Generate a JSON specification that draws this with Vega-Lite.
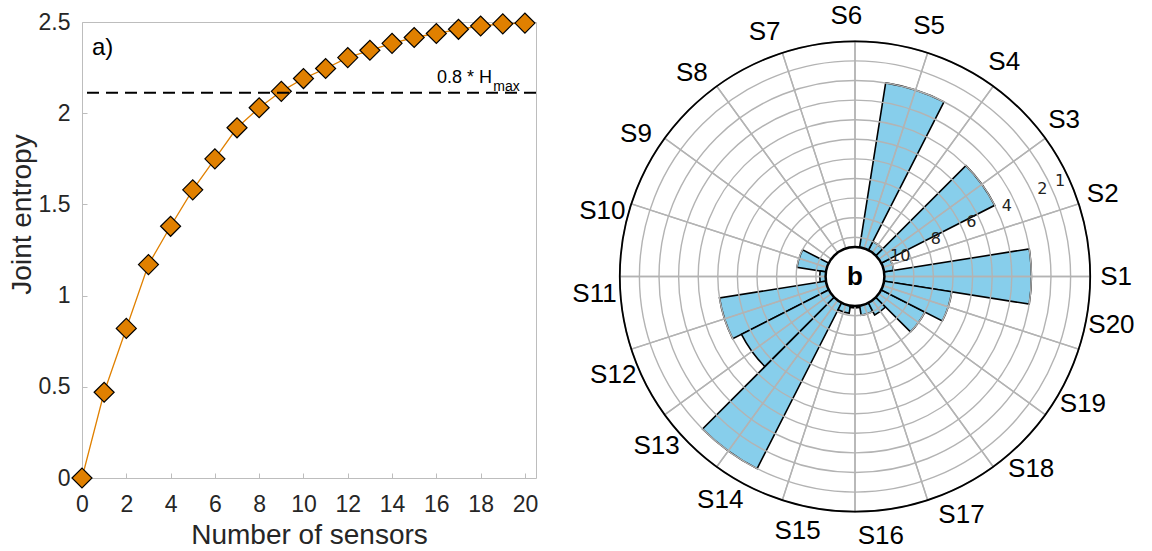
{
  "$schema": "https://vega.github.io/schema/vega-lite/v6.json",
  "background": "white",
  "padding": {"left": 7, "top": 2, "right": 0, "bottom": 0},
  "bounds": "flush",
  "spacing": 84,
  "config": {"font": "Liberation Sans"},
  "datasets": {
    "curve": [
      {"sensors": 0, "H": 0},
      {"sensors": 1, "H": 0.47},
      {"sensors": 2, "H": 0.82},
      {"sensors": 3, "H": 1.17},
      {"sensors": 4, "H": 1.38},
      {"sensors": 5, "H": 1.58},
      {"sensors": 6, "H": 1.75},
      {"sensors": 7, "H": 1.92},
      {"sensors": 8, "H": 2.03},
      {"sensors": 9, "H": 2.12},
      {"sensors": 10, "H": 2.19},
      {"sensors": 11, "H": 2.245},
      {"sensors": 12, "H": 2.305},
      {"sensors": 13, "H": 2.345},
      {"sensors": 14, "H": 2.383},
      {"sensors": 15, "H": 2.415},
      {"sensors": 16, "H": 2.437},
      {"sensors": 17, "H": 2.46},
      {"sensors": 18, "H": 2.478},
      {"sensors": 19, "H": 2.49},
      {"sensors": 20, "H": 2.494}
    ],
    "rank": [
      {"sensor": "S1", "v": 4},
      {"sensor": "S2", "v": 11},
      {"sensor": "S3", "v": 5},
      {"sensor": "S4", "v": 11},
      {"sensor": "S5", "v": 3},
      {"sensor": "S6", "v": 11.6},
      {"sensor": "S7", "v": 12},
      {"sensor": "S8", "v": 12},
      {"sensor": "S9", "v": 12},
      {"sensor": "S10", "v": 10},
      {"sensor": "S11", "v": 11.2},
      {"sensor": "S12", "v": 6},
      {"sensor": "S13", "v": 6.5},
      {"sensor": "S14", "v": 2},
      {"sensor": "S15", "v": 11.1},
      {"sensor": "S16", "v": 11.4},
      {"sensor": "S17", "v": 11},
      {"sensor": "S18", "v": 10.8},
      {"sensor": "S19", "v": 9},
      {"sensor": "S20", "v": 8}
    ],
    "rings": [
      {"g": 2}, {"g": 3}, {"g": 4}, {"g": 5}, {"g": 6},
      {"g": 7}, {"g": 8}, {"g": 9}, {"g": 10}, {"g": 11}
    ],
    "rlabels": [
      {"t": "1", "g": 1}, {"t": "2", "g": 2}, {"t": "4", "g": 4},
      {"t": "6", "g": 6}, {"t": "8", "g": 8}, {"t": "10", "g": 10}
    ]
  },
  "hconcat": [
    {
      "width": 454,
      "height": 456,
      "view": {"stroke": "#bdbdbd", "strokeWidth": 1},
      "layer": [
        {
          "data": {"name": "curve"},
          "mark": {"type": "line", "color": "#E08000", "strokeWidth": 1.3},
          "encoding": {
            "x": {
              "field": "sensors", "type": "quantitative",
              "scale": {"domain": [0, 20.5], "nice": false, "zero": false},
              "axis": {
                "values": [0, 2, 4, 6, 8, 10, 12, 14, 16, 18, 20],
                "title": "Number of sensors",
                "titleFontSize": 28, "titleFontWeight": "normal", "titleColor": "#262626",
                "labelFontSize": 23, "labelColor": "#262626", "labelPadding": 20,
                "titlePadding": 5, "labelFlush": false,
                "grid": false, "domain": false,
                "ticks": true, "tickSize": -5, "tickColor": "#bdbdbd"
              }
            },
            "y": {
              "field": "H", "type": "quantitative",
              "scale": {"domain": [0, 2.5], "nice": false, "zero": false},
              "axis": {
                "values": [0, 0.5, 1, 1.5, 2, 2.5],
                "format": "~g",
                "title": "Joint entropy",
                "titleFontSize": 28, "titleFontWeight": "normal", "titleColor": "#262626",
                "titleY": 192,
                "labelFontSize": 23, "labelColor": "#262626", "labelPadding": 17,
                "titlePadding": 2, "labelFlush": false,
                "grid": false, "domain": false,
                "ticks": true, "tickSize": -5, "tickColor": "#bdbdbd"
              }
            }
          }
        },
        {
          "data": {"name": "curve"},
          "mark": {"type": "point", "shape": "diamond", "filled": true, "fill": "#E08000", "stroke": "#000000", "strokeWidth": 1.2, "size": 400, "opacity": 1},
          "encoding": {
            "x": {"field": "sensors", "type": "quantitative"},
            "y": {"field": "H", "type": "quantitative"}
          }
        },
        {
          "data": {"values": [{}]},
          "mark": {"type": "rule", "strokeDash": [12, 7], "strokeWidth": 1.8, "color": "#000000"},
          "encoding": {"y": {"datum": 2.112, "type": "quantitative"}}
        },
        {
          "data": {"values": [{}]},
          "mark": {"type": "text", "text": "a)", "fontSize": 24, "align": "left", "baseline": "middle", "color": "#000000"},
          "encoding": {"x": {"datum": 0.45, "type": "quantitative"}, "y": {"datum": 2.36, "type": "quantitative"}}
        },
        {
          "data": {"values": [{}]},
          "mark": {"type": "text", "text": "0.8 * H", "fontSize": 18, "align": "right", "baseline": "alphabetic", "color": "#000000"},
          "encoding": {"x": {"datum": 18.51, "type": "quantitative"}, "y": {"datum": 2.167, "type": "quantitative"}}
        },
        {
          "data": {"values": [{}]},
          "mark": {"type": "text", "text": "max", "fontSize": 14, "align": "left", "baseline": "alphabetic", "color": "#000000"},
          "encoding": {"x": {"datum": 18.57, "type": "quantitative"}, "y": {"datum": 2.123, "type": "quantitative"}}
        }
      ]
    },
    {
      "width": 470,
      "height": 509,
      "view": {"stroke": null},
      "resolve": {"scale": {"theta": "independent", "radius": "shared"}},
      "layer": [
        {
          "data": {"name": "rank"},
          "mark": {"type": "arc", "fill": "#87CEEB", "stroke": "#000000", "strokeWidth": 1.6},
          "encoding": {
            "theta": {
              "field": "sensor", "type": "nominal", "stack": null,
              "scale": {"domain": ["S1","S2","S3","S4","S5","S6","S7","S8","S9","S10","S11","S12","S13","S14","S15","S16","S17","S18","S19","S20"], "range": [1.72788, -4.55531], "paddingInner": 0, "paddingOuter": 0}
            },
            "radius": {
              "field": "v", "type": "quantitative", "stack": null,
              "scale": {"type": "linear", "domain": [13, 1], "range": [0, 235.2], "zero": false, "nice": false}
            },
            "radius2": {"datum": 13}
          }
        },
        {
          "data": {"name": "rings"},
          "mark": {"type": "arc", "filled": false, "stroke": "#b3b3b3", "strokeWidth": 1.4},
          "encoding": {
            "theta": {"value": 0},
            "theta2": {"value": 6.2832},
            "radius": {
              "field": "g", "type": "quantitative", "stack": null,
              "scale": {"type": "linear", "domain": [13, 1], "range": [0, 235.2], "zero": false, "nice": false}
            }
          }
        },
        {
          "data": {"name": "rank"},
          "mark": {"type": "arc", "filled": false, "stroke": "#b3b3b3", "strokeWidth": 1.4},
          "encoding": {
            "theta": {
              "field": "sensor", "type": "nominal", "stack": null,
              "scale": {"domain": ["S1","S2","S3","S4","S5","S6","S7","S8","S9","S10","S11","S12","S13","S14","S15","S16","S17","S18","S19","S20"], "range": [1.5708, -4.7124], "paddingInner": 0, "paddingOuter": 0}
            },
            "radius": {
              "datum": 1, "type": "quantitative", "stack": null,
              "scale": {"type": "linear", "domain": [13, 1], "range": [0, 235.2], "zero": false, "nice": false}
            },
            "radius2": {"datum": 13}
          }
        },
        {
          "data": {"values": [{}]},
          "mark": {"type": "arc", "filled": false, "stroke": "#000000", "strokeWidth": 1.8},
          "encoding": {
            "theta": {"value": 0},
            "theta2": {"value": 6.2832},
            "radius": {
              "datum": 1, "type": "quantitative", "stack": null,
              "scale": {"type": "linear", "domain": [13, 1], "range": [0, 235.2], "zero": false, "nice": false}
            }
          }
        },
        {
          "data": {"values": [{}]},
          "mark": {"type": "arc", "fill": "#ffffff", "stroke": "#000000", "strokeWidth": 2.5},
          "encoding": {
            "theta": {"value": 0},
            "theta2": {"value": 6.2832},
            "radius": {
              "datum": 11.5, "type": "quantitative", "stack": null,
              "scale": {"type": "linear", "domain": [13, 1], "range": [0, 235.2], "zero": false, "nice": false}
            }
          }
        },
        {
          "data": {"values": [{}]},
          "mark": {"type": "text", "text": "b", "fontSize": 26, "fontWeight": "bold", "align": "center", "baseline": "middle", "color": "#000000"},
          "encoding": {}
        },
        {
          "data": {"name": "rank"},
          "mark": {"type": "text", "fontSize": 26, "align": "center", "baseline": "middle", "color": "#000000"},
          "encoding": {
            "theta": {
              "field": "sensor", "type": "nominal", "stack": null,
              "scale": {"type": "point", "domain": ["S1","S2","S3","S4","S5","S6","S7","S8","S9","S10","S11","S12","S13","S14","S15","S16","S17","S18","S19","S20"], "range": [1.5708, -4.52389], "padding": 0}
            },
            "radius": {
              "datum": -0.32, "type": "quantitative", "stack": null,
              "scale": {"type": "linear", "domain": [13, 1], "range": [0, 235.2], "zero": false, "nice": false}
            },
            "text": {"field": "sensor"}
          }
        },
        {
          "data": {"name": "rlabels"},
          "mark": {"type": "text", "font": "DejaVu Sans", "fontSize": 16, "align": "center", "baseline": "middle", "color": "#222222", "dx": -8, "dy": 4},
          "encoding": {
            "theta": {"value": 1.134},
            "radius": {
              "field": "g", "type": "quantitative", "stack": null,
              "scale": {"type": "linear", "domain": [13, 1], "range": [0, 235.2], "zero": false, "nice": false}
            },
            "text": {"field": "t"}
          }
        }
      ]
    }
  ]
}
